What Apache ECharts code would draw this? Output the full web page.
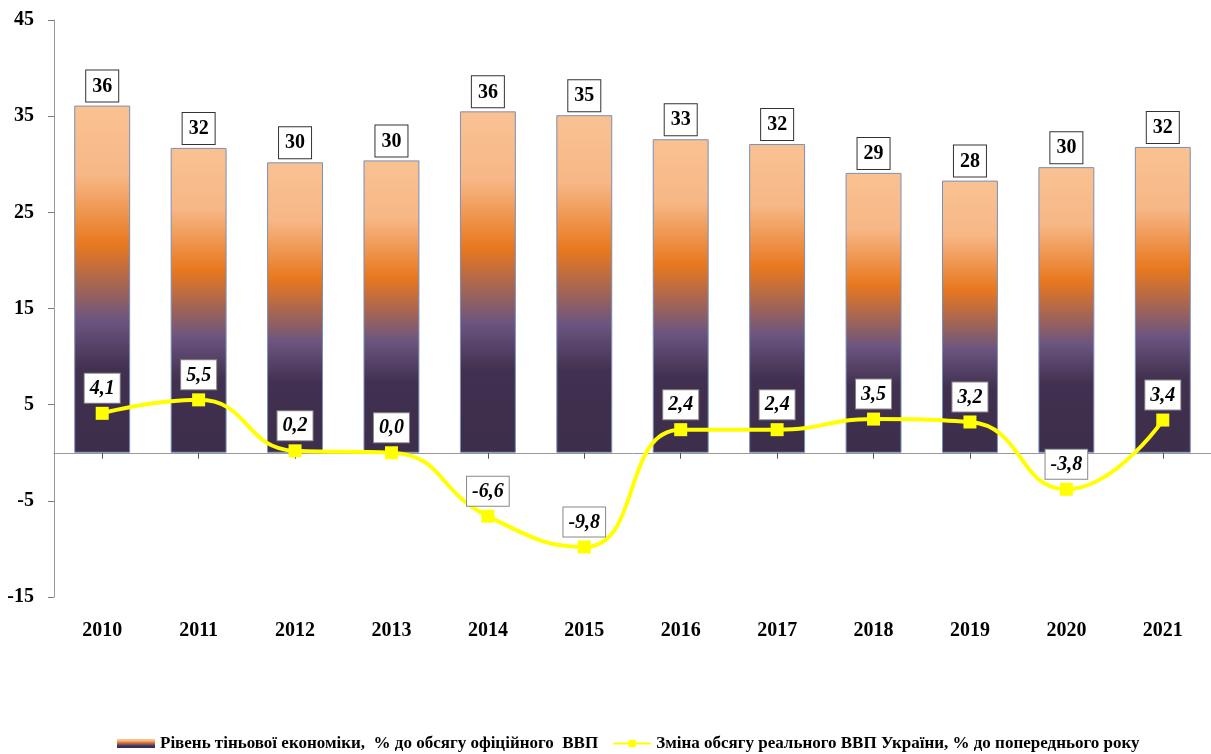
<!DOCTYPE html>
<html>
<head>
<meta charset="utf-8">
<script src="https://cdn.jsdelivr.net/npm/echarts@6/dist/echarts.min.js"></script>
<style>
  html, body { margin: 0; padding: 0; background: #fff; }
  #chart { width: 1211px; height: 754px; }
</style>
</head>
<body>
<div id="chart"></div>
<script>
// роки
const years = ['2010', '2011', '2012', '2013', '2014', '2015', '2016', '2017', '2018', '2019', '2020', '2021'];
// рівень тіньової економіки, % ВВП (висота стовпчиків)
const shadowEconomy = [36.1, 31.7, 30.2, 30.4, 35.5, 35.1, 32.6, 32.1, 29.1, 28.3, 29.7, 31.8];
// зміна реального ВВП, % до попереднього року
const gdpChange = [4.1, 5.5, 0.2, 0.0, -6.6, -9.8, 2.4, 2.4, 3.5, 3.2, -3.8, 3.4];
// підписи осі Y
const yTicks = [-15, -5, 5, 15, 25, 35, 45];

const barName = 'Рівень тіньової економіки,  % до обсягу офіційного  ВВП';
const lineName = 'Зміна обсягу реального ВВП України, % до попереднього року';

const FONT = '"Liberation Serif", "Times New Roman", serif';

const chart = echarts.init(document.getElementById('chart'));

const barGradient = new echarts.graphic.LinearGradient(0, 0, 0, 1, [
  { offset: 0, color: '#f9c293' },
  { offset: 0.2, color: '#f7b786' },
  { offset: 0.4, color: '#e8781f' },
  { offset: 0.62, color: '#6b5580' },
  { offset: 0.76, color: '#41304f' },
  { offset: 1, color: '#3d2e4c' },
]);

const option = {
  animation: false,
  backgroundColor: '#fff',
  grid: {
    left: 54,
    top: 20,
    width: 1160,
    height: 577,
  },
  legend: {
    top: 730,
    left: 112,
    itemGap: 14,
    textStyle: {
      fontFamily: FONT,
      fontWeight: 'bold',
      fontSize: 17,
      color: '#000',
    },
    data: [
      { name: barName, icon: 'rect', itemStyle: { color: barGradient, borderWidth: 0 } },
      { name: lineName },
    ],
    itemWidth: 38,
    itemHeight: 9,
  },
  xAxis: [
    {
      type: 'category',
      data: years,
      position: 'bottom',
      axisLine: { show: false, onZero: false },
      axisTick: { show: false },
      axisLabel: {
        margin: 24,
        fontFamily: FONT,
        fontWeight: 'bold',
        fontSize: 20,
        color: '#000',
      },
    },
    {
      type: 'category',
      data: years,
      position: 'top',
      axisLine: { show: true, onZero: true, lineStyle: { color: '#999', width: 1 } },
      axisTick: { show: true, alignWithLabel: true, inside: true, length: 6, lineStyle: { color: '#555' } },
      axisLabel: { show: false },
    },
  ],
  yAxis: {
    type: 'value',
    min: -15,
    max: 45,
    axisLine: { show: true, lineStyle: { color: '#999' } },
    axisTick: { show: true, length: 6, customValues: yTicks, lineStyle: { color: '#777' } },
    splitLine: { show: false },
    axisLabel: {
      customValues: yTicks,
      margin: 20,
      fontFamily: FONT,
      fontWeight: 'bold',
      fontSize: 20,
      color: '#000',
    },
  },
  series: [
    {
      name: barName,
      type: 'bar',
      data: shadowEconomy,
      barWidth: '58%',
      itemStyle: {
        color: barGradient,
        borderColor: '#7a8fb5',
        borderWidth: 1,
      },
      label: {
        show: true,
        position: 'top',
        distance: 4,
        formatter: (p) => String(Math.round(p.value)),
        fontFamily: FONT,
        fontWeight: 'bold',
        fontSize: 20,
        color: '#000',
        backgroundColor: '#fff',
        borderColor: '#333',
        borderWidth: 1,
        padding: [6, 6, 5, 6],
      },
      z: 2,
    },
    {
      name: lineName,
      type: 'line',
      data: gdpChange,
      smooth: 0.5,
      symbol: 'rect',
      symbolSize: 13,
      itemStyle: { color: '#ffff00' },
      lineStyle: { color: '#ffff00', width: 4 },
      label: {
        show: true,
        position: 'top',
        distance: 4,
        formatter: (p) => p.value.toFixed(1).replace('.', ','),
        fontFamily: FONT,
        fontWeight: 'bold',
        fontStyle: 'italic',
        fontSize: 20,
        color: '#000',
        backgroundColor: '#fff',
        borderColor: '#888',
        borderWidth: 1,
        padding: [5, 5, 4, 5],
      },
      z: 3,
    },
  ],
};

chart.setOption(option);
</script>
</body>
</html>
